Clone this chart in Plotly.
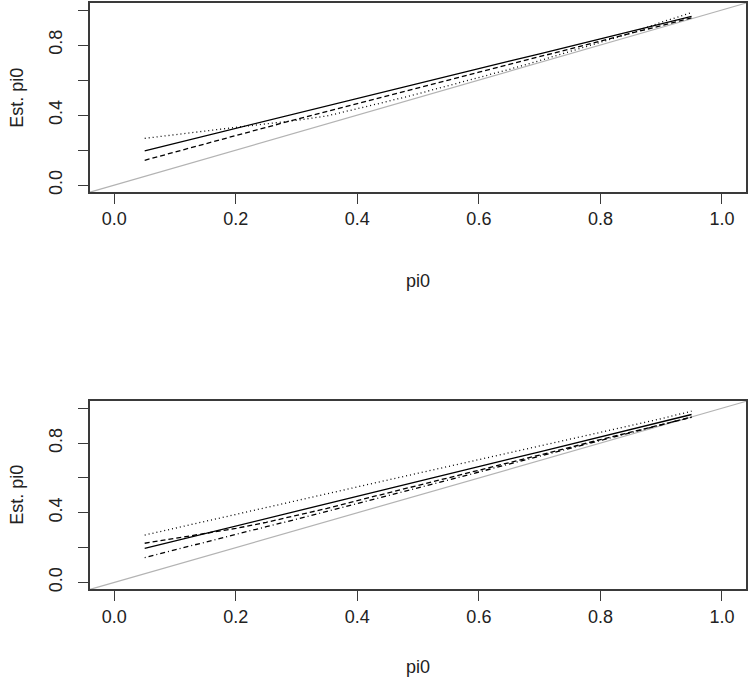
import plotly.graph_objects as go

# true pi0 grid
pi0 = [0.05, 0.10, 0.15, 0.20, 0.25, 0.30, 0.35, 0.40, 0.45, 0.50,
       0.55, 0.60, 0.65, 0.70, 0.75, 0.80, 0.85, 0.90, 0.95]

# top panel estimates
top_solid = [0.196, 0.239, 0.281, 0.324, 0.367, 0.409, 0.452, 0.495, 0.537, 0.580,
             0.623, 0.665, 0.708, 0.750, 0.793, 0.836, 0.878, 0.921, 0.964]
top_dashed = [0.142, 0.190, 0.236, 0.283, 0.330, 0.376, 0.420, 0.465, 0.510, 0.555,
              0.600, 0.645, 0.690, 0.735, 0.780, 0.824, 0.868, 0.911, 0.955]
top_dotted = [0.267, 0.289, 0.310, 0.330, 0.350, 0.370, 0.395, 0.435, 0.478, 0.522,
              0.568, 0.614, 0.661, 0.711, 0.762, 0.815, 0.868, 0.930, 0.985]

# bottom panel estimates
bot_solid = [0.196, 0.239, 0.281, 0.324, 0.367, 0.409, 0.452, 0.495, 0.537, 0.580,
             0.623, 0.665, 0.708, 0.750, 0.793, 0.836, 0.878, 0.921, 0.964]
bot_dashed = [0.225, 0.252, 0.280, 0.310, 0.345, 0.385, 0.425, 0.470, 0.513, 0.557,
              0.600, 0.645, 0.688, 0.732, 0.775, 0.820, 0.862, 0.905, 0.948]
bot_dotted = [0.272, 0.312, 0.351, 0.391, 0.430, 0.470, 0.509, 0.549, 0.588, 0.627,
              0.666, 0.705, 0.744, 0.783, 0.822, 0.861, 0.900, 0.940, 0.983]
bot_dashdot = [0.143, 0.188, 0.232, 0.276, 0.320, 0.363, 0.408, 0.452, 0.497, 0.542,
               0.588, 0.633, 0.679, 0.724, 0.770, 0.815, 0.860, 0.905, 0.950]

tick_vals = [0.0, 0.2, 0.4, 0.6, 0.8, 1.0]
x_tick_text = ["0.0", "0.2", "0.4", "0.6", "0.8", "1.0"]
y_tick_text = ["0.0", "", "0.4", "", "0.8", ""]

FONT = "Liberation Sans, Arial, Helvetica, sans-serif"
BOX = "#3a3a3a"
LW = 1.3
FS = 18

fig = go.Figure()


def add_line(y, dash, xa, ya):
    fig.add_trace(go.Scatter(
        x=pi0, y=y, mode="lines", xaxis=xa, yaxis=ya,
        line=dict(color="black", width=LW, dash=dash),
        showlegend=False, hoverinfo="skip",
    ))


add_line(top_solid, "solid", "x", "y")
add_line(top_dashed, "5px,3px", "x", "y")
add_line(top_dotted, "1px,3px", "x", "y")

add_line(bot_solid, "solid", "x2", "y2")
add_line(bot_dashed, "5px,3px", "x2", "y2")
add_line(bot_dotted, "1px,3px", "x2", "y2")
add_line(bot_dashdot, "1px,3px,5px,3px", "x2", "y2")

# identity line (abline(0, 1)) across each panel
for xr, yr in [("x domain", "y domain"), ("x2 domain", "y2 domain")]:
    fig.add_shape(type="line", xref=xr, yref=yr, x0=0, y0=0, x1=1, y1=1,
                  line=dict(color="#b3b3b3", width=1.2), layer="below")

axis_common = dict(
    range=[-0.04, 1.04], tickvals=tick_vals, ticks="outside", ticklen=10,
    tickwidth=1.3, tickcolor=BOX, showline=True, mirror=True, linecolor=BOX,
    linewidth=1.5, showgrid=False, zeroline=False,
    tickfont=dict(family=FONT, size=FS, color="#222"),
)

xdom = [0.12, 0.995]
fig.update_layout(
    width=750, height=686,
    margin=dict(l=0, r=0, t=0, b=0),
    paper_bgcolor="white", plot_bgcolor="white",
    xaxis=dict(domain=xdom, anchor="y", ticktext=x_tick_text,
               ticklabelstandoff=0, **axis_common),
    yaxis=dict(domain=[0.7187, 0.9956], anchor="x", ticktext=y_tick_text,
               tickangle=-90, ticklabelstandoff=9, **axis_common),
    xaxis2=dict(domain=xdom, anchor="y2", ticktext=x_tick_text,
                ticklabelstandoff=0, **axis_common),
    yaxis2=dict(domain=[0.137, 0.4125], anchor="x2", ticktext=y_tick_text,
                tickangle=-90, ticklabelstandoff=9, **axis_common),
)

title_font = dict(family=FONT, size=FS, color="#222")
for y in [0.589, 0.0233]:
    fig.add_annotation(text="pi0", xref="paper", yref="paper", x=0.557, y=y,
                       xanchor="center", yanchor="middle",
                       showarrow=False, font=title_font)
for y in [0.857, 0.2755]:
    fig.add_annotation(text="Est. pi0", xref="paper", yref="paper", x=0.0227, y=y,
                       xanchor="center", yanchor="middle", textangle=-90,
                       showarrow=False, font=title_font)

fig.write_html("out.html", config={"displayModeBar": False},
               post_script="document.body.style.margin='0';")
